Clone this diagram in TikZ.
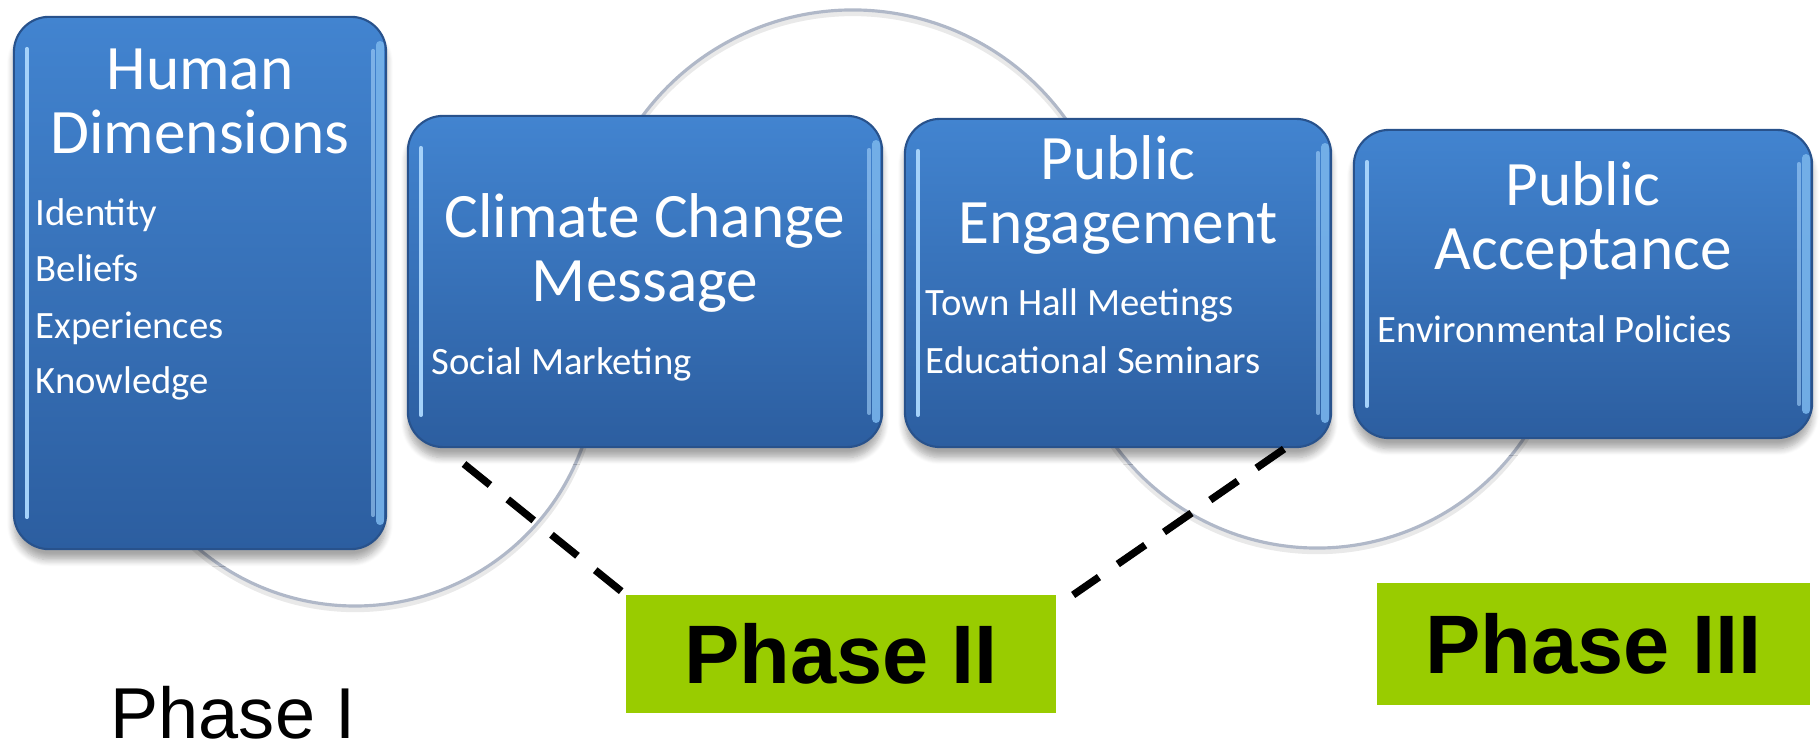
\documentclass[tikz,border=0pt]{standalone}
\usepackage{fontspec}
\setmainfont{Carlito}
\newfontfamily\armfont{Liberation Sans}
\usetikzlibrary{calc,shadows.blur}

\definecolor{boxtop}{RGB}{66,132,208}
\definecolor{boxbot}{RGB}{44,94,160}
\definecolor{boxedge}{RGB}{40,82,140}
\definecolor{glint}{RGB}{165,210,250}
\definecolor{rimlight}{RGB}{120,180,235}
\definecolor{ringgray}{RGB}{176,184,200}
\definecolor{phasegreen}{RGB}{153,204,0}

\tikzset{
  stagebox/.style={rounded corners=10pt, inner sep=0pt, outer sep=0pt,
    top color=boxtop, bottom color=boxbot, draw=boxedge, line width=0.6pt,
    blur shadow={shadow xshift=0pt, shadow yshift=-3pt, shadow blur steps=8, shadow opacity=35}},
  glintline/.style={line width=1.1pt, glint, line cap=round},
  rimline/.style={line width=2.2pt, rimlight, line cap=round, opacity=0.9},
  ring/.style={line width=0.9pt, ringgray},
  ringshade/.style={line width=1.8pt, black!25, opacity=0.35},
  heading/.style={text=white, inner sep=0pt, anchor=base, font=\fontsize{18}{18}\selectfont},
  item/.style={text=white, inner sep=0pt, anchor=base west, font=\fontsize{11}{13}\selectfont},
  phasebox/.style={fill=phasegreen, inner sep=0pt, outer sep=0pt,
    font=\armfont\bfseries\fontsize{23.6}{26}\selectfont},
  phaselink/.style={line width=2.1pt, dash pattern=on 9.5pt off 6.5pt}
}

\newcommand\bevel[1]{%
  \draw[glintline] ($(#1.south west)+(13,32)$) -- ($(#1.north west)+(13,-32)$);
  \draw[rimline] ($(#1.south east)+(-6,28)$) -- ($(#1.north east)+(-6,-28)$);
  \draw[glintline, opacity=0.6] ($(#1.south east)+(-13,34)$) -- ($(#1.north east)+(-13,-34)$);
}

\begin{document}
\begin{tikzpicture}[x=0.01cm, y=0.01cm]
\useasboundingbox (0,0) rectangle (1819,749);

% connecting rings, drawn first so the boxes cover their ends
\draw[ringshade] ($(355,382)+(215:242)$) arc[start angle=215, end angle=350, radius=242];
\draw[ring] ($(355,385)+(215:242)$) arc[start angle=215, end angle=350, radius=242];
\draw[ringshade] ($(853,474)+(30:262)$) arc[start angle=30, end angle=150, radius=262];
\draw[ring] ($(853,477)+(30:262)$) arc[start angle=30, end angle=150, radius=262];
\draw[ringshade] ($(1317,448)+(205:250)$) arc[start angle=205, end angle=335, radius=250];
\draw[ring] ($(1317,451)+(205:250)$) arc[start angle=205, end angle=335, radius=250];

% stage boxes
\node[stagebox, minimum width=3.72cm, minimum height=5.32cm] (b1) at (200,466) {};
\node[stagebox, minimum width=4.74cm, minimum height=3.31cm] (b2) at (645,467.5) {};
\node[stagebox, minimum width=4.26cm, minimum height=3.28cm] (b3) at (1118,466) {};
\node[stagebox, minimum width=4.58cm, minimum height=3.08cm] (b4) at (1583,465) {};
\bevel{b1}\bevel{b2}\bevel{b3}\bevel{b4}

% Human Dimensions
\node[heading] (t1a) at (200,659) {Human};
\node[heading] (t1b) at (200,595) {Dimensions};
\node[item] (i1a) at (35,523) {Identity};
\node[item] (i1b) at (35,467) {Beliefs};
\node[item] (i1c) at (35,410) {Experiences};
\node[item] (i1d) at (35,355) {Knowledge};

% Climate Change Message
\node[heading] (t2a) at (645,511) {Climate Change};
\node[heading] (t2b) at (645,447) {Message};
\node[item] (i2a) at (431,374) {Social Marketing};

% Public Engagement
\node[heading] (t3a) at (1118,569) {Public};
\node[heading] (t3b) at (1118,505) {Engagement};
\node[item] (i3a) at (925,433) {Town Hall Meetings};
\node[item] (i3b) at (925,375) {Educational Seminars};

% Public Acceptance
\node[heading] (t4a) at (1583,543) {Public};
\node[heading] (t4b) at (1583,479) {Acceptance};
\node[item] (i4a) at (1377,406) {Environmental Policies};

% phase labels
\node[phasebox, minimum width=4.30cm, minimum height=1.18cm] (p2) at (841,95) {Phase II};
\node[phasebox, minimum width=4.33cm, minimum height=1.22cm] (p3) at (1593.5,105) {Phase III};
\node[inner sep=0pt, anchor=base west, font=\armfont\fontsize{20.5}{22}\selectfont] (p1) at (110,10) {Phase I};

% dashed links from the Phase II label up to its stages
\coordinate (la) at (464,285);
\coordinate (lb) at (1284,300);
\coordinate (lbend) at ($(p2.north east)+(17,0)$);
\draw[phaselink] (la) -- (p2.north west);
\draw[phaselink] (lb) -- (lbend);
\end{tikzpicture}
\end{document}
